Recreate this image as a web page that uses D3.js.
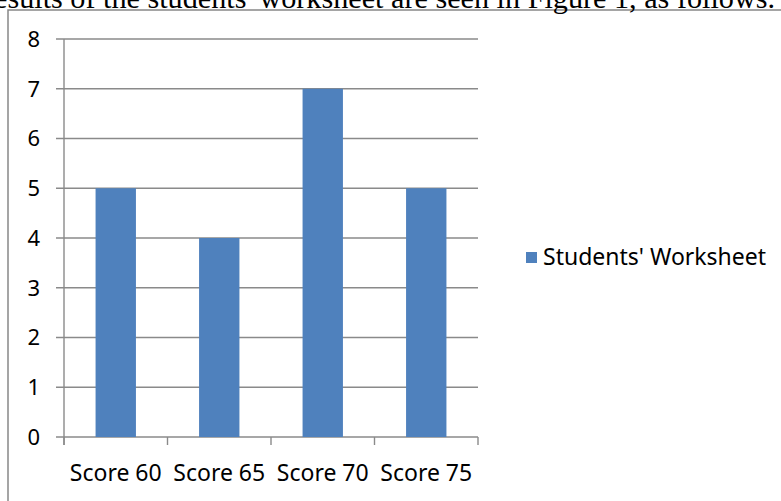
<!DOCTYPE html>
<html>
<head>
<meta charset="utf-8">
<script src="https://cdn.jsdelivr.net/npm/d3@7"></script>
<style>
  body { margin: 0; background: #fff; }
  svg { display: block; }
</style>
</head>
<body>
<script>
const width = 781;
const height = 501;

const categories = ["Score 60", "Score 65", "Score 70", "Score 75"];
const values = [5, 4, 7, 5];
const seriesName = "Students' Worksheet";
const yTicks = [0, 1, 2, 3, 4, 5, 6, 7, 8];

const plot = { left: 64, right: 478, top: 39, bottom: 437 };
const font = "'Noto Sans', sans-serif";

const svg = d3.select("body")
  .append("svg")
  .attr("width", width)
  .attr("height", height);

// chart frame (runs off the right and bottom)
svg.append("rect")
  .attr("x", 8)
  .attr("y", 10)
  .attr("width", 800)
  .attr("height", 520)
  .attr("fill", "none")
  .attr("stroke", "#888")
  .attr("stroke-width", 1.5);

// caption line from the page above, cut off at the top
svg.append("text")
  .attr("x", 775)
  .attr("y", 8)
  .attr("text-anchor", "end")
  .attr("font-family", "'Liberation Serif', serif")
  .attr("font-size", 30.2)
  .attr("fill", "#000")
  .text("Results of the students' worksheet are seen in Figure 1, as follows.");

const x = d3.scaleBand().domain(categories).range([plot.left, plot.right]);
const y = d3.scaleLinear().domain([0, 8]).range([plot.bottom, plot.top]);

// gridlines with left tick stubs
svg.append("g")
  .selectAll("line")
  .data(yTicks)
  .join("line")
  .attr("x1", plot.left - 8)
  .attr("x2", plot.right)
  .attr("y1", d => y(d))
  .attr("y2", d => y(d))
  .attr("stroke", "#8a8a8a")
  .attr("stroke-width", 1.4);

// y axis line
svg.append("line")
  .attr("x1", plot.left)
  .attr("x2", plot.left)
  .attr("y1", y(8))
  .attr("y2", y(0) + 8)
  .attr("stroke", "#8a8a8a")
  .attr("stroke-width", 1.4);

// x axis tick marks at band boundaries
const boundaries = categories.map(c => x(c)).concat([x.range()[1]]);
svg.append("g")
  .selectAll("line")
  .data(boundaries)
  .join("line")
  .attr("x1", d => d)
  .attr("x2", d => d)
  .attr("y1", y(0))
  .attr("y2", y(0) + 8)
  .attr("stroke", "#8a8a8a")
  .attr("stroke-width", 1.4);

// y tick labels
svg.append("g")
  .selectAll("text")
  .data(yTicks)
  .join("text")
  .attr("x", 40)
  .attr("y", d => y(d))
  .attr("dy", "0.36em")
  .attr("text-anchor", "end")
  .attr("font-family", font)
  .attr("font-size", 22)
  .attr("fill", "#000")
  .text(d => d);

// bars
const barW = x.bandwidth() * 0.39;
svg.append("g")
  .selectAll("rect")
  .data(values)
  .join("rect")
  .attr("x", (d, i) => x(categories[i]) + (x.bandwidth() - barW) / 2)
  .attr("y", d => y(d))
  .attr("width", barW)
  .attr("height", d => y(0) - y(d))
  .attr("fill", "#4f81bd");

// category labels
svg.append("g")
  .selectAll("text")
  .data(categories)
  .join("text")
  .attr("x", d => x(d) + x.bandwidth() / 2)
  .attr("y", 481)
  .attr("text-anchor", "middle")
  .attr("font-family", font)
  .attr("font-size", 23)
  .attr("fill", "#000")
  .text(d => d);

// legend
svg.append("rect")
  .attr("x", 526)
  .attr("y", 252)
  .attr("width", 11)
  .attr("height", 11)
  .attr("fill", "#4f81bd");

svg.append("text")
  .attr("x", 543)
  .attr("y", 265)
  .attr("font-family", font)
  .attr("font-size", 23)
  .attr("fill", "#000")
  .text(seriesName);
</script>
</body>
</html>
